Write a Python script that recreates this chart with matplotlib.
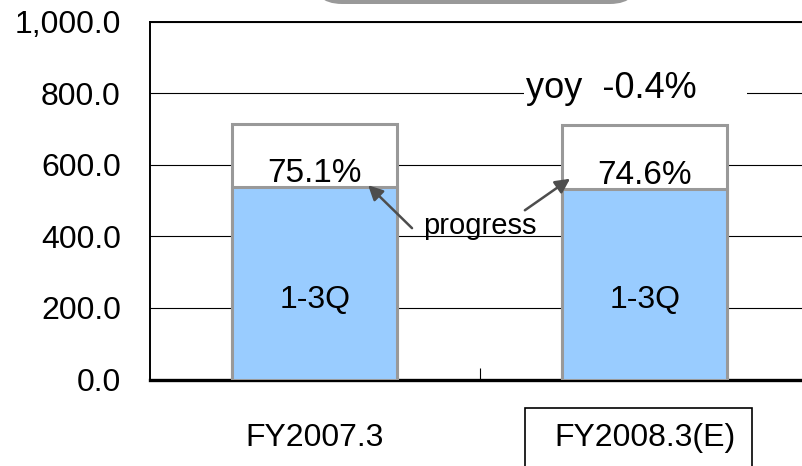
import matplotlib
matplotlib.use("Agg")
import matplotlib.pyplot as plt
from matplotlib.patches import FancyBboxPatch, Rectangle
from matplotlib.ticker import FixedLocator, FuncFormatter
import matplotlib.transforms as mtransforms

plt.rcParams["font.family"] = ["Liberation Sans", "DejaVu Sans"]

# full-year sales and the 1-3Q cumulative part
years = ["FY2007.3", "FY2008.3(E)"]
full_year = [715.0, 712.0]
q1_3 = [537.0, 531.2]
y_ticks = [0, 200, 400, 600, 800, 1000]

BLUE = "#99CCFF"
EDGE = "#999999"
ARROW = "#4D4D4D"
FS = 23

fig = plt.figure(figsize=(8.03, 4.66), dpi=100)
ax = fig.add_axes([150 / 803, 1 - 379.5 / 466, 660 / 803, (379.5 - 21.7) / 466])

x = list(range(len(years)))
ax.bar(x, full_year, width=0.5, color="white", edgecolor=EDGE, linewidth=2.2, zorder=2)
ax.bar(x, q1_3, width=0.5, color=BLUE, edgecolor=EDGE, linewidth=2.2, zorder=3)

ax.set_xlim(-0.5, len(years) - 0.5)
ax.set_ylim(0, 1000)
ax.set_axisbelow(True)
ax.yaxis.set_major_locator(FixedLocator(y_ticks))
ax.yaxis.set_major_formatter(FuncFormatter(lambda v, _: f"{v:,.1f}"))
ax.grid(axis="y", color="black", linewidth=0.8)
ax.tick_params(axis="y", length=0, pad=21, labelsize=FS)

ax.set_xticks(x)
ax.set_xticklabels(years)
ax.tick_params(axis="x", which="major", length=0, pad=31, labelsize=FS)
ax.set_xticks([0.5], minor=True)
ax.tick_params(axis="x", which="minor", direction="in", length=9, width=0.8, color="black")

ax.spines["right"].set_visible(False)
ax.spines["top"].set_linewidth(1.4)
ax.spines["left"].set_linewidth(1.4)
ax.spines["bottom"].set_linewidth(2.4)

# labels inside the bars
for xi, tot, part in zip(x, full_year, q1_3):
    ax.text(xi, 222, "1-3Q", ha="center", va="center", fontsize=FS, zorder=4)
    ax.text(xi, part + 40, f"{part / tot * 100:.1f}%", ha="center", va="center",
            fontsize=FS + 1, zorder=4)

# year-on-year change with a white patch cutting the 800 gridline
yoy = (full_year[1] / full_year[0] - 1) * 100
blend = mtransforms.blended_transform_factory(ax.transAxes, ax.transData)
ax.add_patch(Rectangle((0.567, 770), 0.338, 60, transform=blend, facecolor="white",
                       edgecolor="none", zorder=1.5))
ax.text(0.898, 812, f"yoy  {yoy:.1f}%", ha="center", va="center", fontsize=FS + 3, zorder=4)

# progress arrows pointing at the 1-3Q tops
ax.text(0.5, 428, "progress", ha="center", va="center", fontsize=FS - 2, zorder=4)
arrow_kw = dict(arrowstyle="-|>", mutation_scale=22, lw=1.8, color=ARROW,
                shrinkA=0, shrinkB=0)
ax.annotate("", xy=(0.161, q1_3[0] + 6), xytext=(0.294, 423),
            arrowprops=arrow_kw, zorder=5)
ax.annotate("", xy=(0.773, q1_3[1] + 30), xytext=(0.636, 473),
            arrowprops=arrow_kw, zorder=5)

# frame around the forecast year label
fig.add_artist(Rectangle((525 / 803, -0.1), 227 / 803, 0.1 + 58 / 466,
                         transform=fig.transFigure, facecolor="none",
                         edgecolor="black", linewidth=1.2))

# title box sitting above the top edge
fig.add_artist(FancyBboxPatch((312, 462), 328, 60,
                              boxstyle="round,pad=0,rounding_size=30",
                              transform=mtransforms.IdentityTransform(),
                              facecolor="#999999", edgecolor="none"))

fig.savefig("out.png", dpi=100)
